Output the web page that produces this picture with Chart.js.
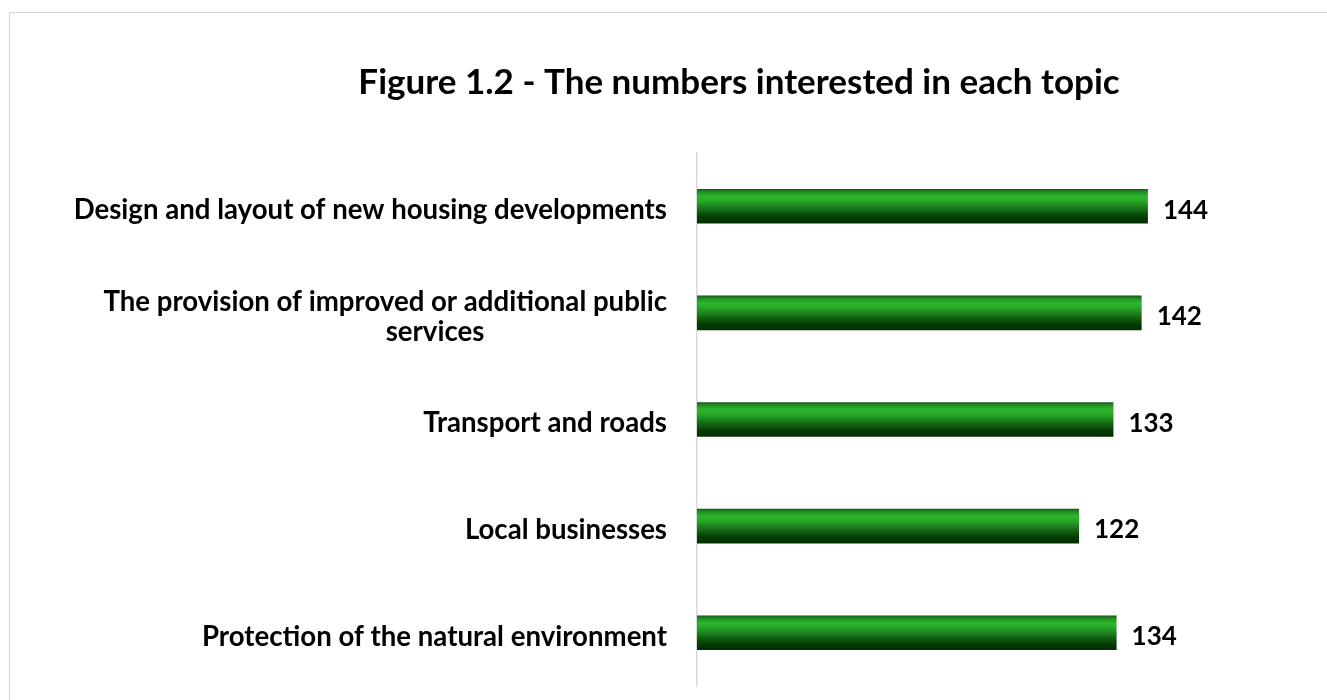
<!DOCTYPE html>
<html>
<head>
<meta charset="utf-8">
<title>Figure 1.2</title>
<script src="https://cdn.jsdelivr.net/npm/chart.js@4/dist/chart.umd.min.js"></script>
<style>
    html, body { margin: 0; padding: 0; background: #fff; overflow: hidden; }
    #wrap { position: relative; width: 1327px; height: 700px; }
    #frame {
        position: absolute; left: 9px; top: 12px; width: 1400px; height: 800px;
        border-left: 1px solid #d6d6d6; border-top: 1px solid #d6d6d6;
        box-sizing: border-box; pointer-events: none;
    }
    #topicChart { position: absolute; left: 0; top: 0; }
</style>
</head>
<body>
<div id="wrap">
    <div id="frame"></div>
    <canvas id="topicChart" width="1327" height="700"></canvas>
</div>
<script>
// Chart data
const chartTitle = 'Figure 1.2 - The numbers interested in each topic';
const topics = [
    ['Design and layout of new housing developments'],
    ['The provision of improved or additional public', 'services'],
    ['Transport and roads'],
    ['Local businesses'],
    ['Protection of the natural environment']
];
const interested = [144, 142, 133, 122, 134];
const axisMin = 0;
const axisMax = 160;

// Layout
const FONT = 'Lato, "Open Sans", sans-serif';
const LABEL_AREA = 697;      // width reserved left of the bars
const LABEL_GAP = 30;        // gap between labels and the axis line
const WRAP_CENTER = 435;     // continuation lines of wrapped labels are centred here
const BAR_PCT = 0.325;

// Vertical green shading used for every bar
function barFill(ctx) {
    const chart = ctx.chart;
    const area = chart.chartArea;
    if (!area || ctx.dataIndex === undefined) return '#1f8a1f';
    const yScale = chart.scales.y;
    const band = (area.bottom - area.top) / topics.length;
    const mid = yScale.getPixelForValue(ctx.dataIndex);
    const half = band * BAR_PCT / 2;
    const g = chart.ctx.createLinearGradient(0, mid - half, 0, mid + half);
    g.addColorStop(0, '#145214');
    g.addColorStop(0.07, '#1f8a1f');
    g.addColorStop(0.22, '#2db72d');
    g.addColorStop(0.36, '#27a527');
    g.addColorStop(0.6, '#166c16');
    g.addColorStop(0.8, '#063f06');
    g.addColorStop(1, '#002e00');
    return g;
}

// Title, category labels and value labels
const textPlugin = {
    id: 'texts',
    afterDraw(chart) {
        const c = chart.ctx;
        const yScale = chart.scales.y;
        const area = chart.chartArea;
        c.save();
        c.fillStyle = '#000';

        c.font = 'bold 35px ' + FONT;
        c.textAlign = 'center';
        c.textBaseline = 'middle';
        c.fillText(chartTitle, 739, 83);

        c.font = 'bold 27.6px ' + FONT;
        const right = area.left - LABEL_GAP;
        const lineH = 30;
        topics.forEach((lines, i) => {
            const y = yScale.getPixelForValue(i) + 4;
            const top = y - (lines.length - 1) * lineH / 2;
            lines.forEach((line, j) => {
                if (j === 0) {
                    c.textAlign = 'right';
                    c.fillText(line, right, top);
                } else {
                    c.textAlign = 'center';
                    c.fillText(line, WRAP_CENTER, top + j * lineH);
                }
            });
        });

        c.font = 'bold 26px ' + FONT;
        c.textAlign = 'left';
        const meta = chart.getDatasetMeta(0);
        meta.data.forEach((bar, i) => {
            c.fillText(String(interested[i]), bar.x + 15, bar.y + 4);
        });
        c.restore();
    }
};

new Chart(document.getElementById('topicChart'), {
    type: 'bar',
    data: {
        labels: topics,
        datasets: [{
            data: interested,
            backgroundColor: barFill,
            borderWidth: 0,
            barPercentage: BAR_PCT,
            categoryPercentage: 1
        }]
    },
    options: {
        indexAxis: 'y',
        responsive: false,
        animation: false,
        devicePixelRatio: 1,
        layout: { padding: { top: 153, bottom: 14, left: 0, right: 129 } },
        plugins: {
            legend: { display: false },
            title: { display: false },
            tooltip: { enabled: false }
        },
        scales: {
            x: {
                display: false,
                min: axisMin,
                max: axisMax
            },
            y: {
                afterFit(scale) { scale.width = LABEL_AREA; },
                grid: { display: false, drawTicks: false },
                border: { display: true, color: '#d9d9d9', width: 1.5 },
                ticks: { display: false }
            }
        }
    },
    plugins: [textPlugin]
});
</script>
</body>
</html>
